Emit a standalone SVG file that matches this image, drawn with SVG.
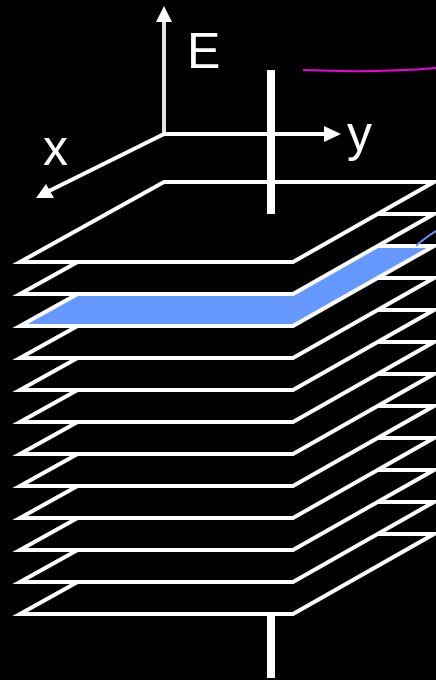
<svg xmlns="http://www.w3.org/2000/svg" width="436" height="680" viewBox="0 0 436 680">
<style>
.p{fill:#000;stroke:#fff;stroke-width:4;stroke-linejoin:miter;stroke-miterlimit:10}
.blue{fill:#6699ff}
.b{fill:#fff}
.a{fill:none;stroke:#fff;stroke-width:4}
text{font-family:"Liberation Sans",Arial,sans-serif;font-size:50px;fill:#fff}
</style>
<defs><path id="pl" d="M164 182H434L293 262H20Z"/></defs>
<rect width="436" height="680" fill="#000"/>
<g id="rod-lower"><rect class="b" x="267" y="614" width="8" height="64"/></g>
<g id="planes">
<use class="p" href="#pl" y="352"/>
<use class="p" href="#pl" y="320"/>
<use class="p" href="#pl" y="288"/>
<use class="p" href="#pl" y="256"/>
<use class="p" href="#pl" y="224"/>
<use class="p" href="#pl" y="192"/>
<use class="p" href="#pl" y="160"/>
<use class="p" href="#pl" y="128"/>
<use class="p" href="#pl" y="96"/>
<use class="p blue" href="#pl" y="64"/>
<use class="p" href="#pl" y="32"/>
<use class="p" href="#pl" y="0"/>
</g>
<g id="rod-upper"><rect class="b" x="267" y="70" width="8" height="144"/></g>
<g id="connectors">
<path d="M164 134V22" fill="none" stroke="#e4e4e4" stroke-width="4"/>
<path class="b" d="M164 6L172 22H156Z"/>
<path class="a" d="M164 134H325"/>
<path class="b" d="M341 134L324 126V142Z"/>
<path class="a" d="M164 134L47 192"/>
<path class="b" d="M36 198L46 184L54 198Z"/>
<path d="M303 70C350 72 400 71 436 68" fill="none" stroke="#f000e0" stroke-width="2"/>
<path d="M416 246C422 240 430 235 436 231" fill="none" stroke="#6699ff" stroke-width="2"/>
</g>
<g id="labels">
<text x="187" y="68">E</text>
<text x="43" y="165">x</text>
<text x="347" y="151">y</text>
</g>
</svg>
